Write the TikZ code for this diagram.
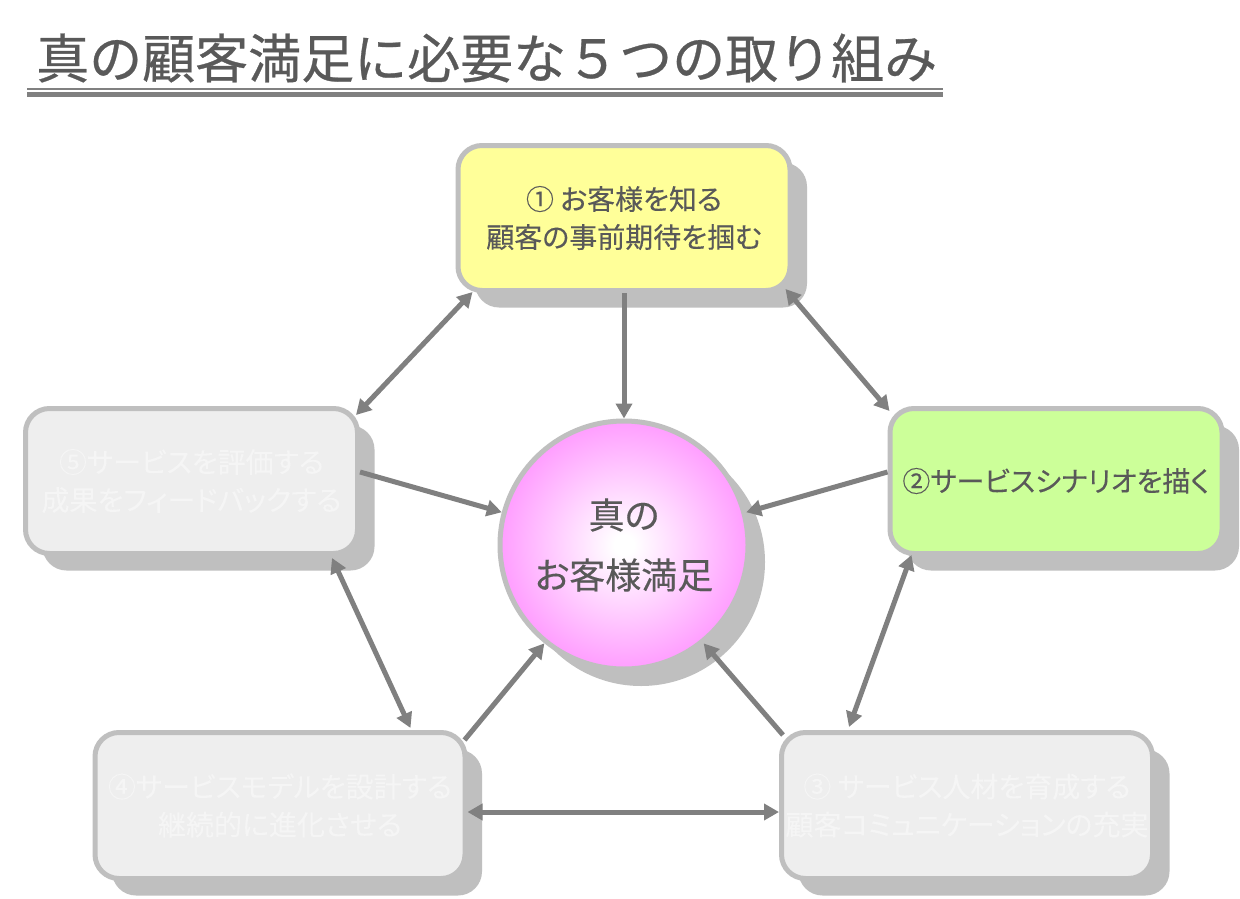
\documentclass[tikz,border=0pt]{standalone}
\usepackage{fontspec}
\setmainfont{Noto Sans CJK JP}[RawFeature=+palt, FakeBold=0.2]
\newfontfamily\titlefont{Noto Sans CJK JP}[FakeBold=0.5]
\usetikzlibrary{arrows.meta,shadows}
\definecolor{txt}{HTML}{595959}
\definecolor{fadetxt}{HTML}{F5F5F5}
\definecolor{bord}{HTML}{BFBFBF}
\definecolor{shad}{HTML}{BFBFBF}
\definecolor{arrc}{HTML}{808080}
\definecolor{yel}{HTML}{FFFF99}
\definecolor{grn}{HTML}{CCFF99}
\definecolor{gry}{HTML}{EEEEEE}
\definecolor{pinkc}{HTML}{FF99FF}
\pgfdeclareradialshading{pinkball}{\pgfpoint{0bp}{0bp}}{color(0bp)=(white); color(2bp)=(white); color(26bp)=(pinkc); color(50bp)=(pinkc)}
\begin{document}
\begin{tikzpicture}[x=1pt,y=-1pt,
  card/.style={draw=bord, line width=5pt, rounded corners=24pt,
    minimum height=145pt, align=center, text=txt, inner sep=0pt,
    font=\fontsize{28}{38}\selectfont,
    drop shadow={shadow xshift=17pt, shadow yshift=-17pt, fill=shad, opacity=1}},
  fadecard/.style={card, fill=gry, text=fadetxt},
  ball/.style={circle, draw=bord, line width=5pt, minimum size=248pt,
    shading=pinkball, align=center, text=txt, inner sep=0pt,
    font=\fontsize{36}{60}\selectfont,
    drop shadow={shadow xshift=17pt, shadow yshift=-17pt, fill=shad, opacity=1}},
  arr/.style={draw=arrc, line width=5pt, -{Triangle[length=15pt,width=16pt]}},
  darr/.style={draw=arrc, line width=5pt, {Triangle[length=15pt,width=16pt]}-{Triangle[length=15pt,width=16pt]}},
  titlestyle/.style={anchor=west, inner sep=0pt, text=txt, font=\titlefont\fontsize{53}{60}\selectfont}
]
\useasboundingbox[fill=white] (0,0) rectangle (1240,899);

% title
\node[titlestyle] (title) at (36,58) {真の顧客満足に必要な５つの取り組み};
\coordinate (ulA) at (27,89);
\coordinate (ulB) at (943,89);
\coordinate (ulC) at (27,94.5);
\coordinate (ulD) at (943,94.5);
\draw[arrc, line width=1.6pt] (ulA) -- (ulB);
\draw[arrc, line width=5pt] (ulC) -- (ulD);

% boxes
\node[card, fill=yel, minimum width=332pt] (b1) at (624,218) {① お客様を知る\\顧客の事前期待を掴む};
\node[card, fill=grn, minimum width=332pt] (b2) at (1056,481) {②サービスシナリオを描く};
\node[fadecard, minimum width=332pt] (b5) at (191.5,481) {⑤サービスを評価する\\成果をフィードバックする};
\node[fadecard, minimum width=370pt, minimum height=146pt] (b4) at (280,805.5) {④サービスモデルを設計する\\継続的に進化させる};
\node[fadecard, minimum width=371pt, minimum height=146pt] (b3) at (967,805.5) {③ サービス人材を育成する\\顧客コミュニケーションの充実};

% centre
\node[ball] (c) at (624,545) {真の\\お客様満足};

% connectors
\draw[arr] (b1.south) -- (c.north);
\draw[darr] ([shift={(17,-1)}]b1.south west) -- ([shift={(-4,9)}]b5.north east);
\draw[darr] ([shift={(-7,-4)}]b1.south east) -- ([shift={(2,5)}]b2.north west);
\draw[arr] ([shift={(0,-9)}]b2.west) -- (c.15);
\draw[arr] ([shift={(0,-9)}]b5.east) -- (c.165);
\draw[darr] ([shift={(-28,2)}]b5.south east) -- ([shift={(-57,-2)}]b4.north east);
\draw[darr] ([shift={(24,-1)}]b2.south west) -- ([shift={(70,-3)}]b3.north west);
\draw[arr] ([shift={(-3,10)}]b4.north east) -- (c.231);
\draw[arr] ([shift={(4,5)}]b3.north west) -- (c.-51);
\draw[darr] ([shift={(0,6.5)}]b4.east) -- ([shift={(0,6.5)}]b3.west);
\end{tikzpicture}
\end{document}
